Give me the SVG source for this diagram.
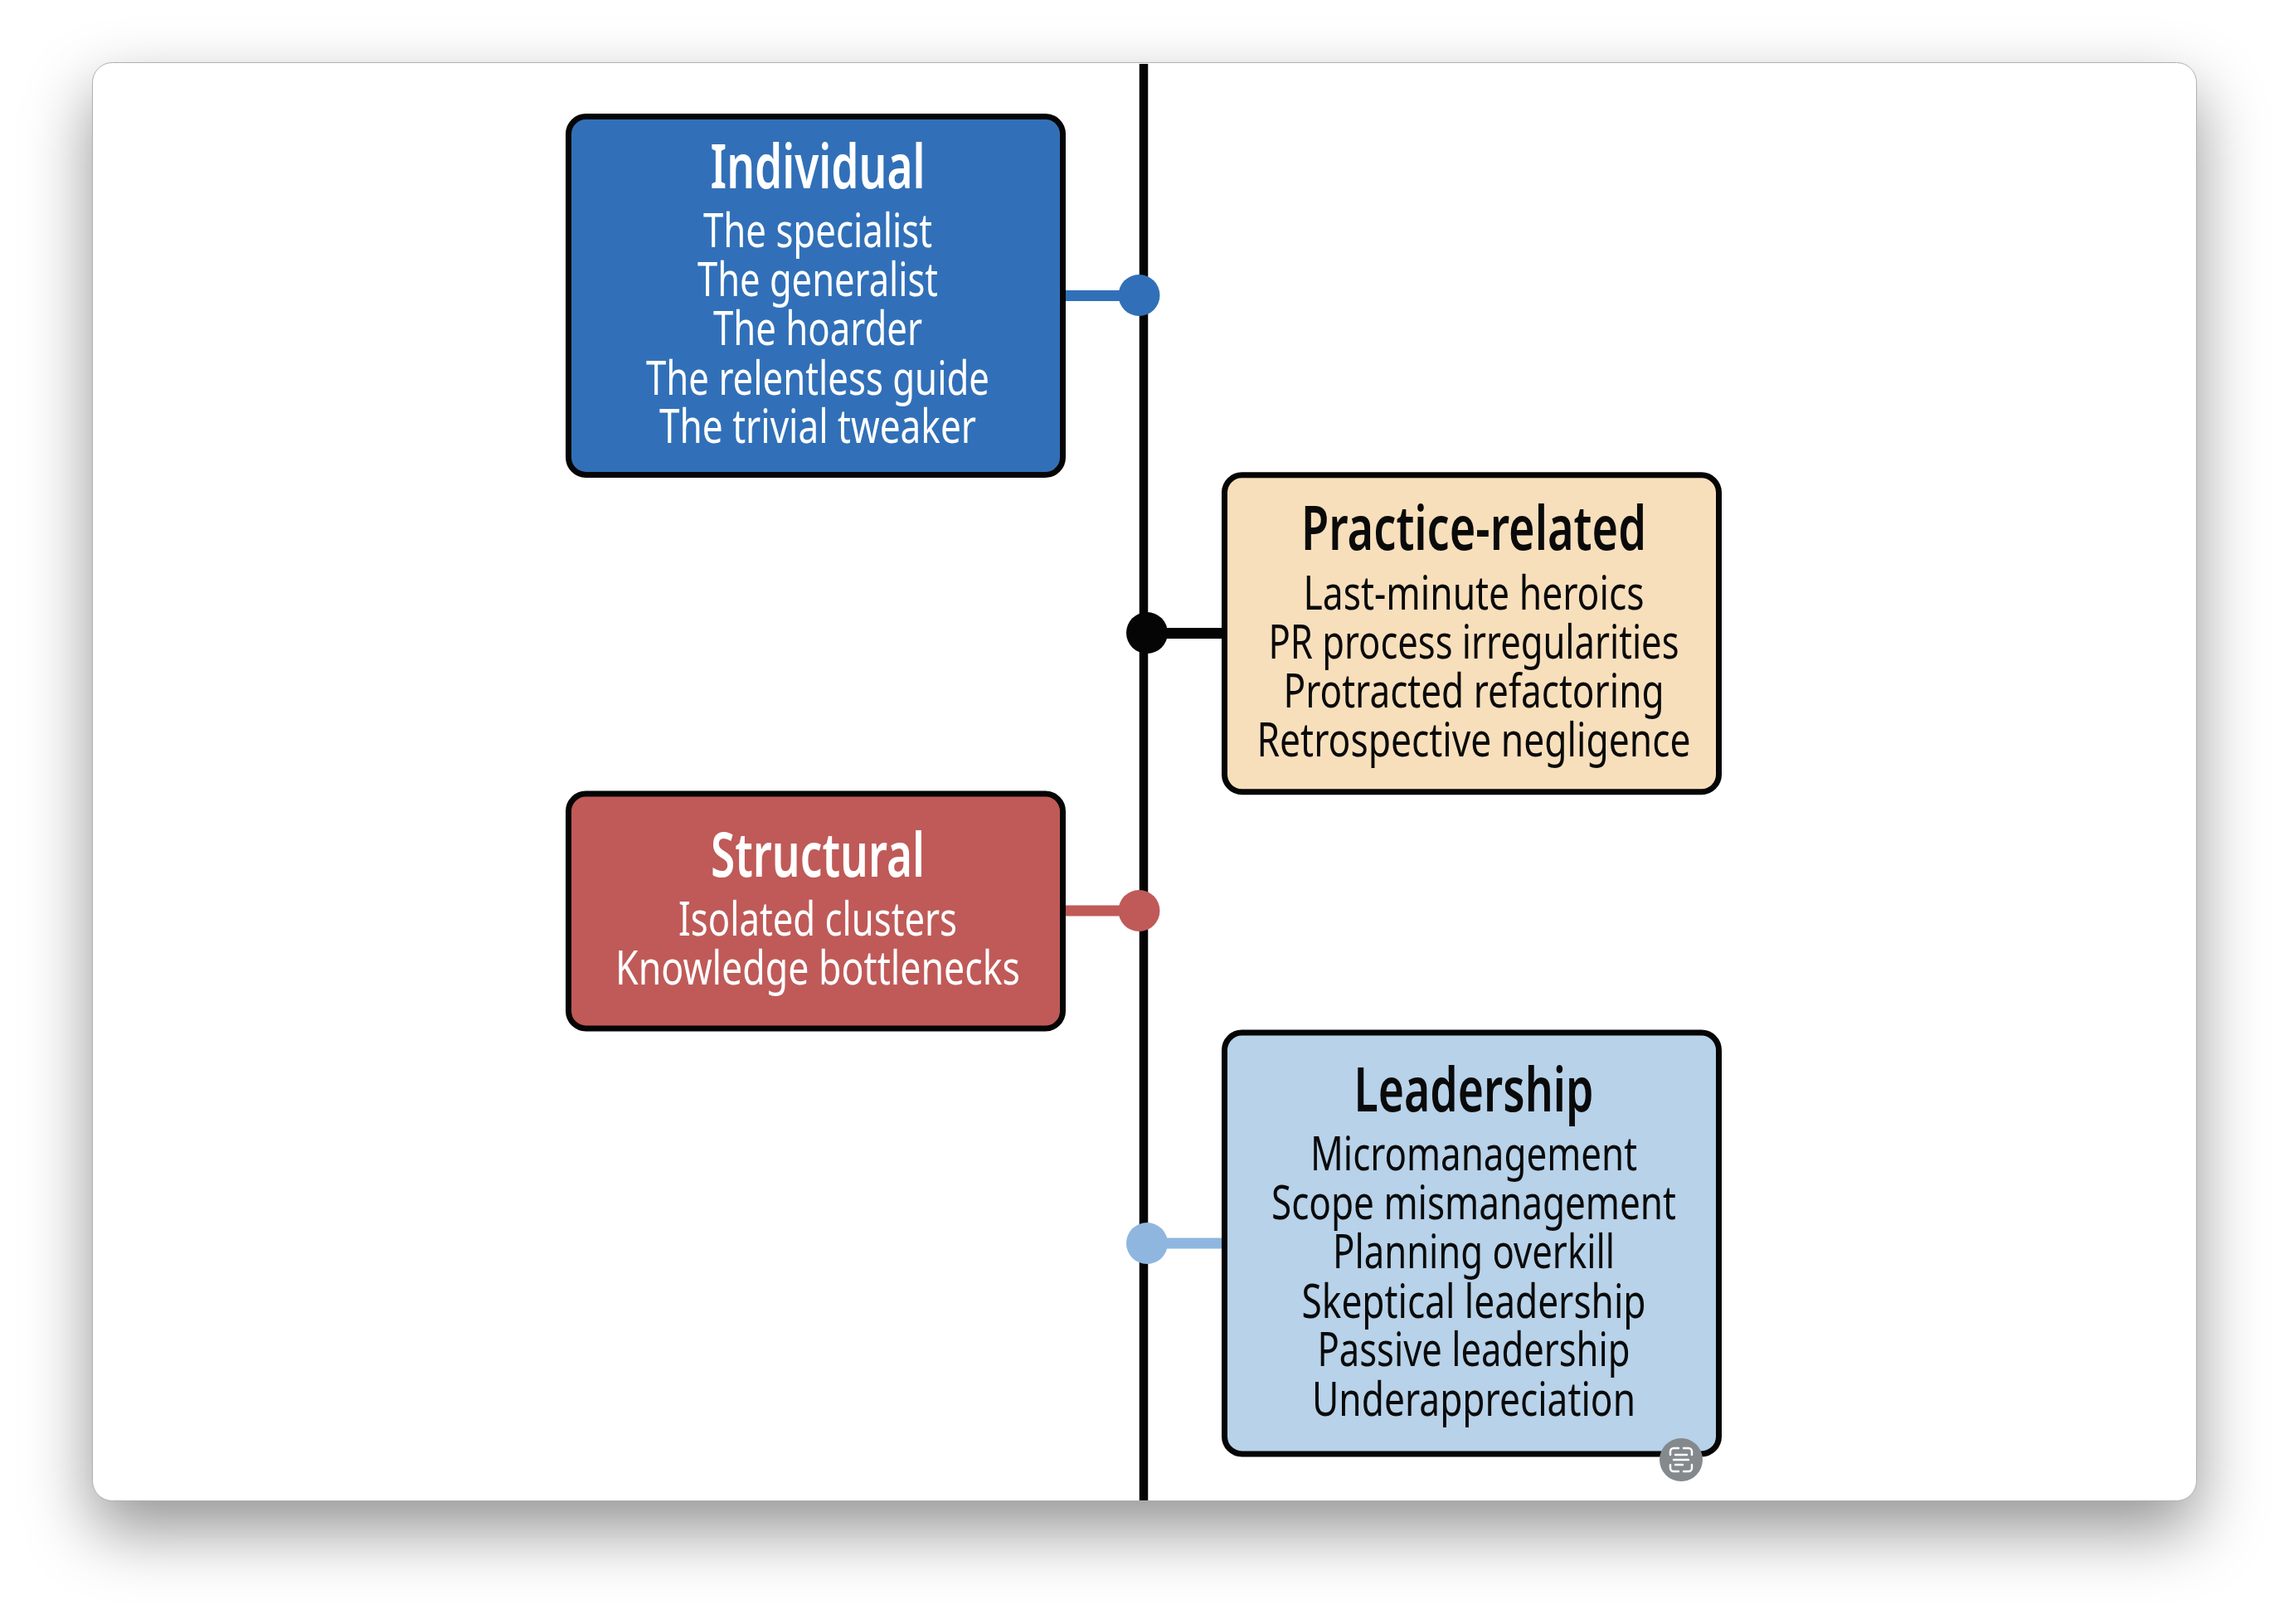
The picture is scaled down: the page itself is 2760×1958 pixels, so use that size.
<svg xmlns="http://www.w3.org/2000/svg" width="2760" height="1958" viewBox="0 0 2760 1958">
<style>
text{font-family:"Noto Sans","Open Sans","Liberation Sans",sans-serif;text-anchor:middle}
.t{font-size:74px;font-weight:600}
.b{font-size:56px}
.w{fill:#fff}
.k{fill:#0a0a0a}
.box{stroke:#050505;stroke-width:7}
.icon{fill:none;stroke:#fff;stroke-width:2.5;stroke-linecap:round}
</style>
<defs>
<filter id="sh" x="-10%" y="-15%" width="120%" height="130%"><feGaussianBlur stdDeviation="40"/></filter>
</defs>
<rect width="2760" height="1958" fill="#fff"/>
<rect x="111" y="110" width="2538" height="1735" rx="24" fill="#000" fill-opacity="0.42" filter="url(#sh)"/>
<rect id="window" x="111.500" y="75.500" width="2537" height="1734" rx="24" fill="#fff" stroke="#b0b0b0" stroke-width="1"/>
<g id="connectors">
<line x1="1379" y1="77" x2="1379" y2="1809" stroke="#050505" stroke-width="10.500"/>
<g id="c-individual" fill="#3170b8" stroke="#3170b8"><line x1="1281" y1="356.500" x2="1374" y2="356.500" stroke-width="13"/><circle cx="1373.500" cy="356" r="25" stroke="none"/></g>
<g id="c-practice" fill="#050505" stroke="#050505"><line x1="1383" y1="763.500" x2="1477" y2="763.500" stroke-width="13"/><circle cx="1383" cy="763" r="25" stroke="none"/></g>
<g id="c-structural" fill="#bf5a58" stroke="#bf5a58"><line x1="1281" y1="1098" x2="1374" y2="1098" stroke-width="13"/><circle cx="1373.500" cy="1098" r="25" stroke="none"/></g>
<g id="c-leadership" fill="#8fb6de" stroke="#8fb6de"><line x1="1383" y1="1499" x2="1477" y2="1499" stroke-width="13"/><circle cx="1383" cy="1499" r="25" stroke="none"/></g>
</g>
<g id="individual">
<rect class="box" x="685.500" y="140.500" width="596" height="432" rx="21" fill="#3170b8"/>
<text class="t w" x="986" y="227" textLength="259" lengthAdjust="spacingAndGlyphs">Individual</text>
<text class="b w" x="986" y="298" textLength="276" lengthAdjust="spacingAndGlyphs">The specialist</text>
<text class="b w" x="986" y="357" textLength="290" lengthAdjust="spacingAndGlyphs">The generalist</text>
<text class="b w" x="986" y="416" textLength="252" lengthAdjust="spacingAndGlyphs">The hoarder</text>
<text class="b w" x="986" y="476" textLength="414" lengthAdjust="spacingAndGlyphs">The relentless guide</text>
<text class="b w" x="986" y="534" textLength="382" lengthAdjust="spacingAndGlyphs">The trivial tweaker</text>
</g>
<g id="practice-related">
<rect class="box" x="1476.500" y="572.800" width="596" height="382" rx="21" fill="#f8dfbc"/>
<text class="t k" x="1777" y="663" textLength="416" lengthAdjust="spacingAndGlyphs">Practice-related</text>
<text class="b k" x="1777" y="735" textLength="411" lengthAdjust="spacingAndGlyphs">Last-minute heroics</text>
<text class="b k" x="1777" y="794" textLength="495" lengthAdjust="spacingAndGlyphs">PR process irregularities</text>
<text class="b k" x="1777" y="853" textLength="459" lengthAdjust="spacingAndGlyphs">Protracted refactoring</text>
<text class="b k" x="1777" y="912" textLength="523" lengthAdjust="spacingAndGlyphs">Retrospective negligence</text>
</g>
<g id="structural">
<rect class="box" x="685.500" y="957" width="596" height="283" rx="21" fill="#bf5a58"/>
<text class="t w" x="986" y="1057" textLength="258" lengthAdjust="spacingAndGlyphs">Structural</text>
<text class="b w" x="986" y="1128" textLength="336" lengthAdjust="spacingAndGlyphs">Isolated clusters</text>
<text class="b w" x="986" y="1187" textLength="488" lengthAdjust="spacingAndGlyphs">Knowledge bottlenecks</text>
</g>
<g id="leadership">
<rect class="box" x="1476.500" y="1245" width="596" height="508" rx="21" fill="#b7d2e9"/>
<text class="t k" x="1777" y="1340" textLength="289" lengthAdjust="spacingAndGlyphs">Leadership</text>
<text class="b k" x="1777" y="1411" textLength="394" lengthAdjust="spacingAndGlyphs">Micromanagement</text>
<text class="b k" x="1777" y="1470" textLength="488" lengthAdjust="spacingAndGlyphs">Scope mismanagement</text>
<text class="b k" x="1777" y="1529" textLength="340" lengthAdjust="spacingAndGlyphs">Planning overkill</text>
<text class="b k" x="1777" y="1589" textLength="415" lengthAdjust="spacingAndGlyphs">Skeptical leadership</text>
<text class="b k" x="1777" y="1647" textLength="377" lengthAdjust="spacingAndGlyphs">Passive leadership</text>
<text class="b k" x="1777" y="1707" textLength="390" lengthAdjust="spacingAndGlyphs">Underappreciation</text>
</g>
<g id="badge">
<circle cx="2027" cy="1760" r="26" fill="#83898d"/>
<path class="icon" d="M2014 1754v-4a4 4 0 0 1 4-4h6M2030 1746h6a4 4 0 0 1 4 4v4M2014 1766v4a4 4 0 0 0 4 4h6M2030 1774h6a4 4 0 0 0 4-4v-4M2020 1754h14M2018 1760h18M2020 1766h9"/>
</g>
</svg>
